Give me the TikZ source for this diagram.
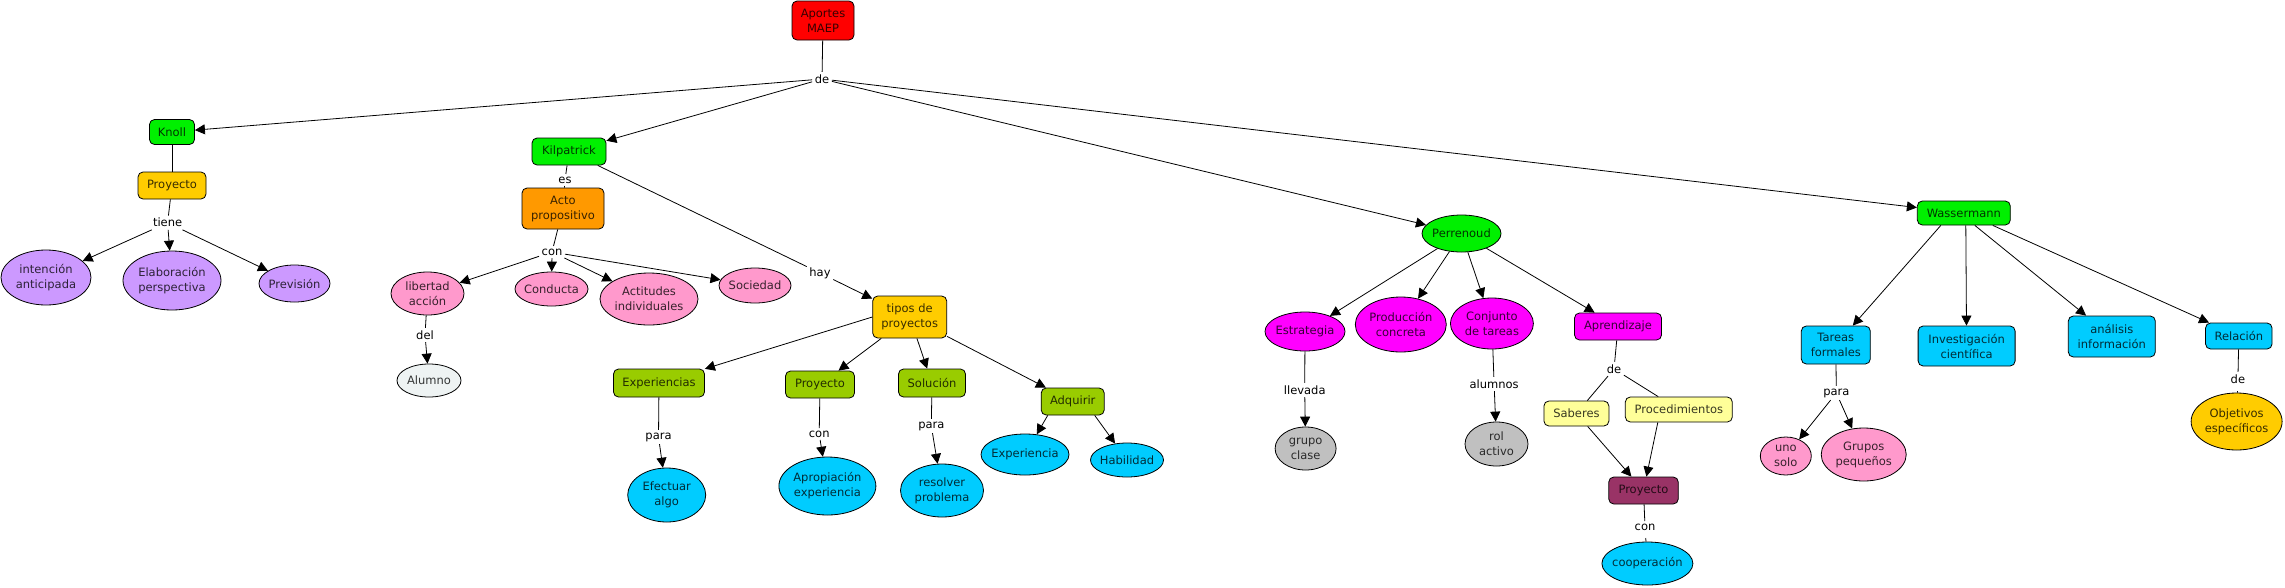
\documentclass[tikz,border=0pt]{standalone}
\usepackage{fontspec}
\setmainfont{DejaVu Sans}
\usetikzlibrary{arrows.meta,shapes.geometric}
\definecolor{cRed}{HTML}{FF0000}
\definecolor{cGreen}{HTML}{00F000}
\definecolor{cGold}{HTML}{FFCC00}
\definecolor{cOrange}{HTML}{FF9900}
\definecolor{cLav}{HTML}{CC99FF}
\definecolor{cPink}{HTML}{FF99CC}
\definecolor{cIce}{HTML}{EEF3F3}
\definecolor{cOlive}{HTML}{99CC00}
\definecolor{cCyan}{HTML}{00CCFF}
\definecolor{cMag}{HTML}{FF00FF}
\definecolor{cGray}{HTML}{C0C0C0}
\definecolor{cLYel}{HTML}{FFFF99}
\definecolor{cMaroon}{HTML}{993366}
\tikzset{
  shp/.style={draw=black, line width=0.8pt, inner sep=0pt},
  bx/.style={shp, rectangle, rounded corners=5pt},
  el/.style={shp, ellipse},
  txt/.style={font=\fontsize{11.5}{15}\selectfont, align=center, inner sep=0pt},
  lnk/.style={font=\fontsize{11.5}{15}\selectfont, inner sep=2.5pt},
  ln/.style={line width=0.8pt, draw=black},
  arr/.style={ln, -{Triangle[length=10pt,width=10pt]}},
}
\newcommand{\cbox}[6]{\node[bx,fill=#2,minimum width=#4pt,minimum height=#5pt] (#1) at #3 {}; \node[txt,text=black!78!#2] at (#1.center) {#6};}
\newcommand{\cell}[6]{\node[el,fill=#2,minimum width=#4pt,minimum height=#5pt] (#1) at #3 {}; \node[txt,text=black!78!#2] at (#1.center) {#6};}
\begin{document}
\begin{tikzpicture}[x=1pt,y=-1pt]
\useasboundingbox (0,0) rectangle (2285,587);
% boxes
\cbox{apo}{cRed}{(823,20.5)}{62}{39}{Aportes\\MAEP}
\cbox{knoll}{cGreen}{(172,132)}{45}{25}{Knoll}
\cbox{proyk}{cGold}{(172,185.5)}{68}{27}{Proyecto}
\cbox{kil}{cGreen}{(569,151.5)}{74}{27}{Kilpatrick}
\cbox{acto}{cOrange}{(563,208.5)}{82}{41}{Acto\\propositivo}
\cbox{tipos}{cGold}{(909.7,317)}{74}{42}{tipos de\\proyectos}
\cbox{expe}{cOlive}{(659,383)}{91}{28}{Experiencias}
\cbox{proyg}{cOlive}{(820,384.5)}{69}{27}{Proyecto}
\cbox{sol}{cOlive}{(932,383)}{67}{28}{Solución}
\cbox{adq}{cOlive}{(1072.7,401.5)}{63}{27}{Adquirir}
\cbox{apr}{cMag}{(1618,326.5)}{87}{27}{Aprendizaje}
\cbox{sab}{cLYel}{(1576.4,413.5)}{65}{25}{Saberes}
\cbox{proc}{cLYel}{(1678.8,409.5)}{107}{25}{Procedimientos}
\cbox{proym}{cMaroon}{(1643.5,490.5)}{69.5}{27}{Proyecto}
\cbox{wass}{cGreen}{(1963.8,213)}{93}{24}{Wassermann}
\cbox{tar}{cCyan}{(1835.8,345)}{69}{38}{Tareas\\formales}
\cbox{inv}{cCyan}{(1966.6,346)}{97}{40}{Investigación\\científica}
\cbox{ana}{cCyan}{(2111.8,336.5)}{87}{41}{análisis\\información}
\cbox{rel}{cCyan}{(2238.8,336)}{66.5}{26}{Relación}
% ellipses
\cell{int}{cLav}{(46,277.5)}{90}{55}{intención\\anticipada}
\cell{elab}{cLav}{(172,280.5)}{98}{59}{Elaboración\\perspectiva}
\cell{prev}{cLav}{(294.5,283.5)}{71}{37}{Previsión}
\cell{lib}{cPink}{(427.5,293.5)}{73}{43}{libertad\\acción}
\cell{cond}{cPink}{(551.5,289)}{73}{34}{Conducta}
\cell{act}{cPink}{(649,299)}{98}{52}{Actitudes\\individuales}
\cell{soc}{cPink}{(755,285.5)}{72}{35}{Sociedad}
\cell{alu}{cIce}{(429,380.5)}{64}{33}{Alumno}
\cell{efe}{cCyan}{(666.7,495)}{78}{54}{Efectuar\\algo}
\cell{apro}{cCyan}{(827.4,486)}{97}{58}{Apropiación\\experiencia}
\cell{res}{cCyan}{(942,490.5)}{83}{53}{resolver\\problema}
\cell{expa}{cCyan}{(1025,454.5)}{88}{41}{Experiencia}
\cell{hab}{cCyan}{(1127,460)}{73}{34}{Habilidad}
\cell{per}{cGreen}{(1461.5,233.5)}{79}{37}{Perrenoud}
\cell{est}{cMag}{(1305,331.5)}{80}{39}{Estrategia}
\cell{prod}{cMag}{(1400.8,324.5)}{91}{55}{Producción\\concreta}
\cell{conj}{cMag}{(1491.9,323.5)}{83}{51}{Conjunto\\de tareas}
\cell{grupo}{cGray}{(1305.6,448.5)}{61}{43}{grupo\\clase}
\cell{rol}{cGray}{(1496.5,444)}{63}{44}{rol\\activo}
\cell{coop}{cCyan}{(1647.4,563.5)}{91}{43}{cooperación}
\cell{uno}{cPink}{(1785.8,456)}{51}{38}{uno\\solo}
\cell{gru}{cPink}{(1863.7,454.5)}{85}{53}{Grupos\\pequeños}
\cell{obj}{cGold}{(2236.6,421.5)}{91}{57}{Objetivos\\específicos}
% linking phrases
\node[lnk] (l1) at (822,79) {de};
\node[lnk] (l2) at (167.6,222.7) {tiene};
\node[lnk] (l3) at (565,180) {es};
\node[lnk] (l4) at (552,252) {con};
\node[lnk] (l5) at (425,335) {del};
\node[lnk] (l6) at (820,273) {hay};
\node[lnk] (l7) at (658.5,437) {para};
\node[lnk] (l8) at (819.2,434) {con};
\node[lnk] (l9) at (931.3,426) {para};
\node[lnk] (l10) at (1304.7,390) {llevada};
\node[lnk] (l11) at (1494.1,384) {alumnos};
\node[lnk] (l12) at (1614,369) {de};
\node[lnk] (l13) at (1645,527) {con};
\node[lnk] (l14) at (1836.3,393) {para};
\node[lnk] (l15) at (2237.9,379) {de};
% connectors
\draw[ln] (apo) -- (l1);
\draw[arr] (l1) -- (knoll);
\draw[arr] (l1) -- (kil);
\draw[arr] (l1) -- (per);
\draw[arr] (l1) -- (wass);
\draw[ln] (knoll) -- (proyk);
\draw[ln] (proyk) -- (l2);
\draw[arr] (l2) -- (int);
\draw[arr] (l2) -- (elab);
\draw[arr] (l2) -- (prev);
\draw[ln] (kil) -- (l3);
\draw[ln] (l3) -- (acto);
\draw[ln] (acto) -- (l4);
\draw[arr] (l4) -- (lib);
\draw[arr] (l4) -- (cond);
\draw[arr] (l4) -- (act);
\draw[arr] (l4) -- (soc);
\draw[ln] (lib) -- (l5);
\draw[arr] (l5) -- (alu);
\draw[ln] (kil) -- (l6);
\draw[arr] (l6) -- (tipos);
\draw[arr] (tipos.west) -- (expe);
\draw[arr] (tipos) -- (proyg);
\draw[arr] (tipos) -- (sol);
\draw[arr] (tipos) -- (adq);
\draw[ln] (expe) -- (l7);
\draw[arr] (l7) -- (efe);
\draw[ln] (proyg) -- (l8);
\draw[arr] (l8) -- (apro);
\draw[ln] (sol) -- (l9);
\draw[arr] (l9) -- (res);
\draw[arr] ([xshift=-25pt]adq.south) -- (expa);
\draw[arr] ([xshift=22pt]adq.south) -- (hab);
\draw[arr] (per) -- (est);
\draw[arr] (per) -- (prod);
\draw[arr] (per) -- (conj);
\draw[arr] (per) -- (apr);
\draw[ln] (est) -- (l10);
\draw[arr] (l10) -- (grupo);
\draw[ln] (conj) -- (l11);
\draw[arr] (l11) -- (rol);
\draw[ln] (apr) -- (l12);
\draw[ln] (l12) -- (sab);
\draw[ln] (l12) -- (proc);
\draw[arr] (sab) -- (proym);
\draw[arr] ([xshift=-21pt]proc.south) -- (proym);
\draw[ln] (proym) -- (l13);
\draw[ln, shorten <=5pt] (l13) -- (coop);
\draw[arr] ([xshift=-23pt]wass.south) -- (tar);
\draw[arr] ([xshift=2pt]wass.south) -- (inv);
\draw[arr] ([xshift=11pt]wass.south) -- (ana);
\draw[arr] ([xshift=29pt]wass.south) -- (rel);
\draw[ln] (tar) -- (l14);
\draw[arr] (l14) -- (uno);
\draw[arr] (l14) -- (gru);
\draw[ln] (rel) -- (l15);
\draw[ln, shorten <=5pt] (l15) -- (obj);
\end{tikzpicture}
\end{document}
